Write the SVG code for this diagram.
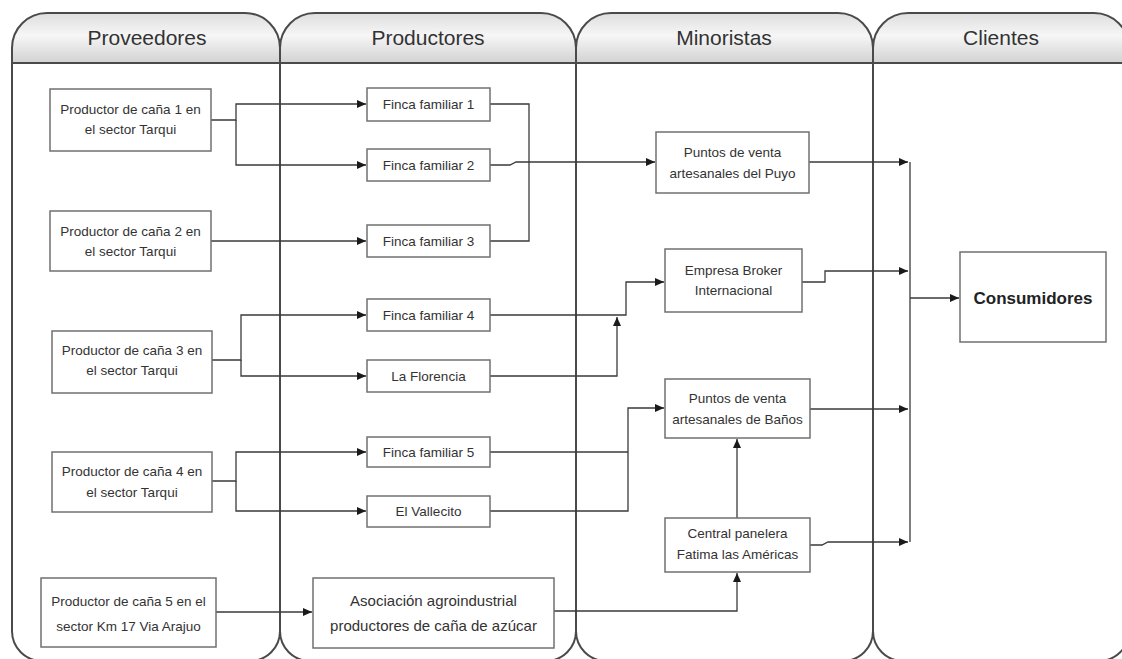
<svg xmlns="http://www.w3.org/2000/svg" width="1122" height="659" viewBox="0 0 1122 659">
<style>
.lane{fill:none;stroke:#4a4a4a;stroke-width:2}
.hdr{fill:url(#hg);stroke:none}
.hline{stroke:#4a4a4a;stroke-width:2}
.htxt{font-family:"Liberation Sans",Arial,sans-serif;font-size:21px;fill:#333;text-anchor:middle}
.box{fill:#fff;stroke:#707070;stroke-width:1.5}
.t{font-family:"Liberation Sans",Arial,sans-serif;font-size:13.5px;fill:#333;text-anchor:middle}
.big{font-size:15px}
.bold{font-size:17px;font-weight:bold;fill:#222}
.c{fill:none;stroke:#3a3a3a;stroke-width:1.3}
.a{marker-end:url(#ah)}
</style>
<defs>
<linearGradient id="hg" x1="0" y1="0" x2="0" y2="1">
<stop offset="0" stop-color="#dedede"/>
<stop offset="0.45" stop-color="#f6f6f6"/>
<stop offset="1" stop-color="#d2d2d2"/>
</linearGradient>
<marker id="ah" markerWidth="9" markerHeight="8" refX="9" refY="4" orient="auto" markerUnits="userSpaceOnUse">
<path d="M0,0 L9,4 L0,8 z" fill="#1a1a1a"/>
</marker>
</defs>
<rect width="1122" height="659" fill="#fff"/>
<g id="lanes">
<path class="hdr" d="M12,63 V48 A35,35 0 0 1 47,13 H245 A35,35 0 0 1 280,48 V63 Z"/>
<path class="hdr" d="M280,63 V48 A35,35 0 0 1 315,13 H541 A35,35 0 0 1 576,48 V63 Z"/>
<path class="hdr" d="M576,63 V48 A35,35 0 0 1 611,13 H838 A35,35 0 0 1 873,48 V63 Z"/>
<path class="hdr" d="M873,63 V48 A35,35 0 0 1 908,13 H1094 A35,35 0 0 1 1129,48 V63 Z"/>
<path class="lane" d="M12,48 A35,35 0 0 1 47,13 H245 A35,35 0 0 1 280,48 V631 A30,30 0 0 1 250,661 H42 A30,30 0 0 1 12,631 Z"/>
<path class="lane" d="M280,48 A35,35 0 0 1 315,13 H541 A35,35 0 0 1 576,48 V631 A30,30 0 0 1 546,661 H310 A30,30 0 0 1 280,631 Z"/>
<path class="lane" d="M576,48 A35,35 0 0 1 611,13 H838 A35,35 0 0 1 873,48 V631 A30,30 0 0 1 843,661 H606 A30,30 0 0 1 576,631 Z"/>
<path class="lane" d="M873,48 A35,35 0 0 1 908,13 H1094 A35,35 0 0 1 1129,48 V631 A30,30 0 0 1 1099,661 H903 A30,30 0 0 1 873,631 Z"/>
<line class="hline" x1="12" y1="63" x2="1129" y2="63"/>
<text class="htxt" x="147" y="45">Proveedores</text>
<text class="htxt" x="428" y="45">Productores</text>
<text class="htxt" x="724" y="45">Minoristas</text>
<text class="htxt" x="1001" y="45">Clientes</text>
</g>
<g id="connectors">
<path class="c a" d="M211,120 H236 V104 H366"/>
<path class="c a" d="M236,120 V165 H366"/>
<path class="c a" d="M211,241 H366"/>
<path class="c" d="M490,104 H529 V241 H490"/>
<path class="c a" d="M490,165 H510 L516,162 H655"/>
<path class="c a" d="M809,162 H908"/>
<path class="c a" d="M212,360 H241 V315 H366"/>
<path class="c a" d="M241,360 V376 H366"/>
<path class="c a" d="M490,315 H626 V282 H664"/>
<path class="c a" d="M490,376 H617 V317"/>
<path class="c a" d="M212,481 H236 V452 H366"/>
<path class="c a" d="M236,481 V511 H366"/>
<path class="c" d="M490,452 H628"/>
<path class="c a" d="M490,511 H628 V408 H664"/>
<path class="c a" d="M810,409 H908"/>
<path class="c a" d="M802,282 H825 V271 H908"/>
<path class="c a" d="M737,518 V439"/>
<path class="c a" d="M810,545 H822 L828,542 H908"/>
<path class="c" d="M910,162 V542"/>
<path class="c a" d="M910,298 H959"/>
<path class="c a" d="M216,612 H312"/>
<path class="c a" d="M554,611 H737 V573"/>
</g>
<g id="p1"><rect class="box" x="50" y="89" width="161" height="62"/><text class="t" x="130.5" y="114">Productor de caña 1 en</text><text class="t" x="130.5" y="134">el sector Tarqui</text></g>
<g id="p2"><rect class="box" x="50" y="211" width="161" height="60"/><text class="t" x="130.5" y="236">Productor de caña 2 en</text><text class="t" x="130.5" y="256">el sector Tarqui</text></g>
<g id="p3"><rect class="box" x="52" y="331" width="160" height="62"/><text class="t" x="132" y="355">Productor de caña 3 en</text><text class="t" x="132" y="375">el sector Tarqui</text></g>
<g id="p4"><rect class="box" x="52" y="452" width="160" height="60"/><text class="t" x="132" y="476">Productor de caña 4 en</text><text class="t" x="132" y="497">el sector Tarqui</text></g>
<g id="p5"><rect class="box" x="41" y="578" width="175" height="69"/><text class="t" x="128.5" y="606">Productor de caña 5 en el</text><text class="t" x="128.5" y="631">sector Km 17 Via Arajuo</text></g>
<g id="f1"><rect class="box" x="367" y="88" width="123" height="33"/><text class="t" x="428.5" y="109">Finca familiar 1</text></g>
<g id="f2"><rect class="box" x="367" y="149" width="123" height="32"/><text class="t" x="428.5" y="170">Finca familiar 2</text></g>
<g id="f3"><rect class="box" x="367" y="225" width="123" height="32"/><text class="t" x="428.5" y="246">Finca familiar 3</text></g>
<g id="f4"><rect class="box" x="367" y="299" width="123" height="32"/><text class="t" x="428.5" y="320">Finca familiar 4</text></g>
<g id="florencia"><rect class="box" x="367" y="360" width="123" height="32"/><text class="t" x="428.5" y="381">La Florencia</text></g>
<g id="f5"><rect class="box" x="367" y="437" width="123" height="30"/><text class="t" x="428.5" y="457">Finca familiar 5</text></g>
<g id="vallecito"><rect class="box" x="367" y="496" width="123" height="31"/><text class="t" x="428.5" y="516">El Vallecito</text></g>
<g id="asociacion"><rect class="box" x="313" y="578" width="241" height="70"/><text class="t big" x="433.5" y="606">Asociación agroindustrial</text><text class="t big" x="433.5" y="631">productores de caña de azúcar</text></g>
<g id="puyo"><rect class="box" x="656" y="132" width="153" height="61"/><text class="t" x="732.5" y="157">Puntos de venta</text><text class="t" x="732.5" y="178">artesanales del Puyo</text></g>
<g id="broker"><rect class="box" x="665" y="249" width="137" height="63"/><text class="t" x="733.5" y="275">Empresa Broker</text><text class="t" x="733.5" y="295">Internacional</text></g>
<g id="banos"><rect class="box" x="665" y="379" width="145" height="59"/><text class="t" x="737.5" y="403">Puntos de venta</text><text class="t" x="737.5" y="424">artesanales de Baños</text></g>
<g id="central"><rect class="box" x="665" y="518" width="145" height="54"/><text class="t" x="737.5" y="538">Central panelera</text><text class="t" x="737.5" y="559">Fatima las Américas</text></g>
<g id="consumidores"><rect class="box" x="960" y="252" width="146" height="90"/><text class="t bold" x="1033" y="304">Consumidores</text></g>
</svg>
